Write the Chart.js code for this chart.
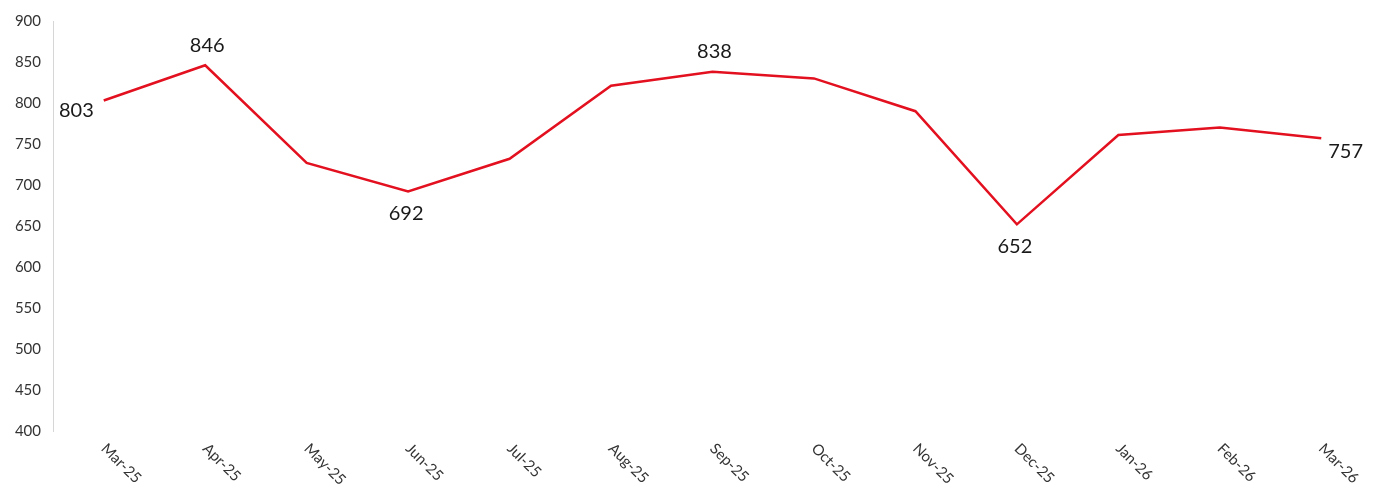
<!DOCTYPE html>
<html lang="en">
<head>
  <meta charset="UTF-8" />
  <title>Monthly trend</title>
  <script src="https://cdn.jsdelivr.net/npm/chart.js"></script>
  <style>
    html, body { margin: 0; padding: 0; background: #fff; }
    #wrap { width: 1380px; height: 494px; position: relative; }
  </style>
</head>
<body>
  <div id="wrap"><canvas id="trendChart"></canvas></div>

  <script>
    // data
    const months = ['Mar-25', 'Apr-25', 'May-25', 'Jun-25', 'Jul-25', 'Aug-25', 'Sep-25',
                    'Oct-25', 'Nov-25', 'Dec-25', 'Jan-26', 'Feb-26', 'Mar-26'];
    const values = [803, 846, 727, 692, 732, 821, 838, 830, 790, 652, 761, 770, 757];
    // which points carry a value label, and where it sits
    const labelled = { 0: 'left', 1: 'above', 3: 'below', 6: 'above', 9: 'below', 12: 'right' };
    const yTicks = [400, 450, 500, 550, 600, 650, 700, 750, 800, 850, 900];

    const FONT = 'Lato, "Open Sans", sans-serif';

    const pointLabels = {
      id: 'pointLabels',
      afterDatasetsDraw(chart) {
        const ctx = chart.ctx;
        const meta = chart.getDatasetMeta(0);
        ctx.save();
        ctx.font = '20px ' + FONT;
        ctx.fillStyle = '#1a1a1a';
        ctx.textBaseline = 'middle';
        Object.keys(labelled).forEach(k => {
          const i = +k;
          const p = meta.data[i];
          const txt = String(values[i]);
          const pos = labelled[k];
          if (pos === 'above') { ctx.textAlign = 'center'; ctx.fillText(txt, p.x + 2, p.y - 20); }
          if (pos === 'below') { ctx.textAlign = 'center'; ctx.fillText(txt, p.x - 2, p.y + 22); }
          if (pos === 'left') { ctx.textAlign = 'right'; ctx.fillText(txt, p.x - 10, p.y + 10); }
          if (pos === 'right') { ctx.textAlign = 'left'; ctx.fillText(txt, p.x + 7, p.y + 13); }
        });
        ctx.restore();
      }
    };

    // slanted month labels going down to the right
    const monthLabels = {
      id: 'monthLabels',
      afterDraw(chart) {
        const ctx = chart.ctx;
        const xs = chart.scales.x;
        ctx.save();
        ctx.font = '15px ' + FONT;
        ctx.fillStyle = '#333';
        ctx.textAlign = 'left';
        ctx.textBaseline = 'middle';
        months.forEach((m, i) => {
          const x = xs.getPixelForValue(i);
          ctx.save();
          ctx.translate(x, chart.chartArea.bottom + 15);
          ctx.rotate(Math.PI / 4);
          ctx.fillText(m, 0, 0);
          ctx.restore();
        });
        ctx.restore();
      }
    };

    new Chart(document.getElementById('trendChart'), {
      type: 'line',
      data: {
        labels: months,
        datasets: [{
          data: values,
          borderColor: '#e3101f',
          borderWidth: 2.5,
          pointRadius: 0,
          tension: 0,
          fill: false
        }]
      },
      options: {
        responsive: true,
        maintainAspectRatio: false,
        animation: false,
        layout: { padding: { top: 14, right: 8, left: 0, bottom: 0 } },
        plugins: {
          legend: { display: false },
          tooltip: { enabled: false }
        },
        scales: {
          x: {
            offset: true,
            grid: { display: false, drawTicks: false },
            border: { display: false },
            ticks: { display: false },
            afterFit: s => { s.height = 63; }
          },
          y: {
            min: 400,
            max: 900,
            afterBuildTicks: s => { s.ticks = yTicks.map(v => ({ value: v })); },
            grid: { display: false, drawTicks: false },
            border: { display: true, color: '#d6d6d6', width: 1 },
            ticks: {
              color: '#333',
              padding: 12,
              font: { family: FONT, size: 15 }
            },
            afterFit: s => { s.width = 53; }
          }
        }
      },
      plugins: [pointLabels, monthLabels]
    });
  </script>
</body>
</html>
